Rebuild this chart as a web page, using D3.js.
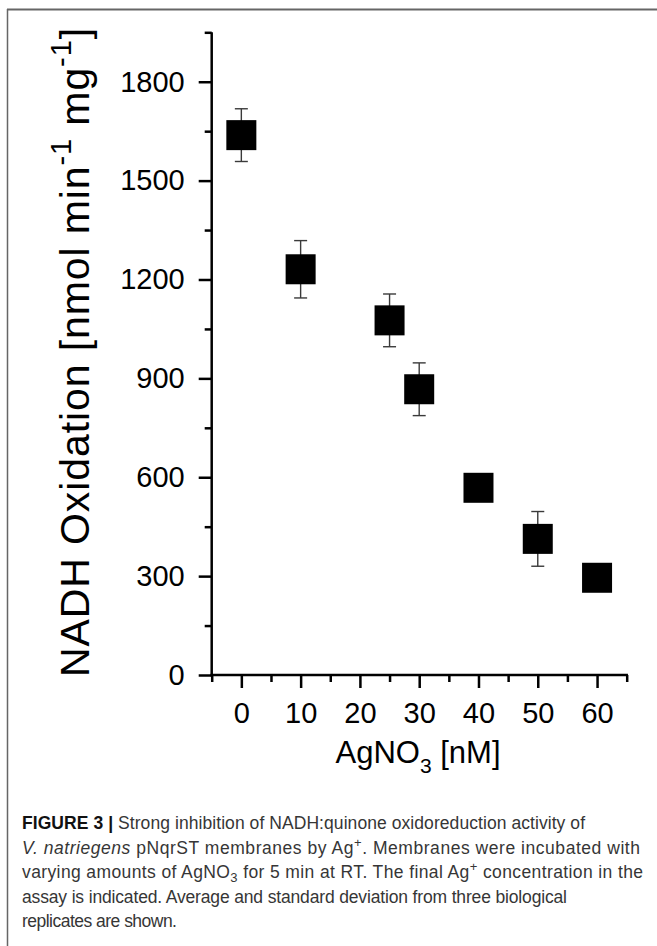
<!DOCTYPE html>
<html>
<head>
<meta charset="utf-8">
<script src="https://cdn.jsdelivr.net/npm/d3@7"></script>
<style>
  html, body { margin: 0; padding: 0; background: #fff; }
  svg { display: block; }
</style>
</head>
<body>
<script>
// ---- data ----
const concentrations = [0, 10, 25, 30, 40, 50, 60];           // AgNO3 [nM]
const activity       = [1638, 1231, 1076, 867, 568, 413, 295]; // NADH oxidation
const stdDev         = [80, 87, 80, 80, 30, 83, 30];
const xTickValues    = [0, 10, 20, 30, 40, 50, 60];
const yTickValues    = [0, 300, 600, 900, 1200, 1500, 1800];
const captionLines = [
  [{t: "FIGURE 3 | ", b: true}, {t: "Strong inhibition of NADH:quinone oxidoreduction activity of"}],
  [{t: "V. natriegens", i: true}, {t: " pNqrST membranes by Ag"}, {t: "+", sup: true}, {t: ". Membranes were incubated with"}],
  [{t: "varying amounts of AgNO"}, {t: "3", sub: true}, {t: " for 5 min at RT. The final Ag"}, {t: "+", sup: true}, {t: " concentration in the"}],
  [{t: "assay is indicated. Average and standard deviation from three biological"}],
  [{t: "replicates are shown."}]
];
const captionRightEdges = [585, 640, 643, 567, 177];

const W = 657, H = 946;
const svg = d3.select("body").append("svg").attr("width", W).attr("height", H);

// frame
svg.append("line").attr("x1", 7).attr("x2", W).attr("y1", 9.5).attr("y2", 9.5)
  .attr("stroke", "#666").attr("stroke-width", 2);
svg.append("line").attr("x1", 7.5).attr("x2", 7.5).attr("y1", 9).attr("y2", H)
  .attr("stroke", "#666").attr("stroke-width", 1.5);

const x = d3.scaleLinear().domain([-5, 65]).range([211.7, 626.7]);
const y = d3.scaleLinear().domain([0, 1950]).range([675, 32.3]);

const font = "'Liberation Sans', Arial, Helvetica, sans-serif";

// axes
const g = svg.append("g");
const yAxis = d3.axisLeft(y).tickValues(yTickValues).tickSize(13).tickPadding(14).tickFormat(d3.format("d"));
const yMinor = d3.axisLeft(y).tickValues(d3.range(150, 1951, 300)).tickSize(7).tickFormat("");
const xAxis = d3.axisBottom(x).tickValues(xTickValues).tickSize(13).tickPadding(14).tickFormat(d3.format("d"));
const xMinor = d3.axisBottom(x).tickValues(d3.range(-5, 66, 10)).tickSize(7).tickFormat("");

function style(sel) {
  sel.select(".domain").remove();
  sel.selectAll(".tick line").attr("stroke", "#000").attr("stroke-width", 2.5);
  sel.selectAll("text").attr("font-family", font).attr("font-size", 29).attr("fill", "#000");
}
g.append("g").attr("transform", `translate(${x(-5)},0)`).call(yAxis).call(style);
g.append("g").attr("transform", `translate(${x(-5)},0)`).call(yMinor).call(style);
g.append("g").attr("transform", `translate(0,${y(0)})`).call(xAxis).call(style);
g.append("g").attr("transform", `translate(0,${y(0)})`).call(xMinor).call(style);

// axis lines
g.append("line").attr("x1", x(-5)).attr("x2", x(-5)).attr("y1", y(1950)).attr("y2", y(0) + 1.25)
  .attr("stroke", "#000").attr("stroke-width", 2.5);
g.append("line").attr("x1", x(-5) - 1.25).attr("x2", x(65) + 1.25).attr("y1", y(0)).attr("y2", y(0))
  .attr("stroke", "#000").attr("stroke-width", 2.5);

// error bars
const data = concentrations.map((c, i) => ({c, v: activity[i], e: stdDev[i]}));
const eb = svg.append("g").attr("stroke", "#3a3a3a").attr("stroke-width", 1.4);
data.forEach(d => {
  eb.append("line").attr("x1", x(d.c)).attr("x2", x(d.c)).attr("y1", y(d.v + d.e)).attr("y2", y(d.v - d.e));
  [d.v + d.e, d.v - d.e].forEach(v => {
    eb.append("line").attr("x1", x(d.c) - 6.5).attr("x2", x(d.c) + 6.5).attr("y1", y(v)).attr("y2", y(v));
  });
});

// squares
const S = 30;
svg.append("g").selectAll("rect").data(data).join("rect")
  .attr("x", d => x(d.c) - S / 2).attr("y", d => y(d.v) - S / 2)
  .attr("width", S).attr("height", S).attr("fill", "#000");

// x label
const xl = svg.append("text").attr("x", 418).attr("y", 763).attr("text-anchor", "middle")
  .attr("font-family", font).attr("font-size", 31).attr("fill", "#000");
xl.append("tspan").text("AgNO");
xl.append("tspan").text("3").attr("font-size", 21).attr("dy", 10);
xl.append("tspan").text(" [nM]").attr("dy", -10);

// y label
const yl = svg.append("text").attr("transform", "translate(89,677) rotate(-90)")
  .attr("text-anchor", "start").attr("font-family", font).attr("font-size", 41)
  .attr("letter-spacing", 0.9).attr("fill", "#000");
yl.append("tspan").text("NADH Oxidation [nmol min");
yl.append("tspan").text("-1").attr("font-size", 29).attr("dy", -18);
yl.append("tspan").text(" mg").attr("dy", 18);
yl.append("tspan").text("-1").attr("font-size", 29).attr("dy", -18);
yl.append("tspan").text("]").attr("dy", 18);

// caption
const baselines = [829, 853.5, 878, 902.5, 927];
captionLines.forEach((line, i) => {
  const t = svg.append("text").attr("x", 22).attr("y", baselines[i])
    .attr("font-family", font).attr("font-size", 17.5).attr("fill", "#363636");
  let shift = 0;
  let nChars = 0;
  line.forEach(p => {
    const s = t.append("tspan").text(p.t);
    nChars += p.t.length;
    let dy = -shift;
    if (p.b) s.attr("font-weight", "bold").attr("fill", "#111");
    if (p.i) s.attr("font-style", "italic");
    if (p.sup) { s.attr("font-size", 13); dy += -7; shift = -7; }
    else if (p.sub) { s.attr("font-size", 13); dy += 4; shift = 4; }
    else { shift = 0; }
    if (dy !== 0) s.attr("dy", dy);
  });
  const w = t.node().getComputedTextLength();
  const target = captionRightEdges[i] - 22;
  t.attr("letter-spacing", (target - w) / Math.max(1, nChars - 1));
});
</script>
</body>
</html>
